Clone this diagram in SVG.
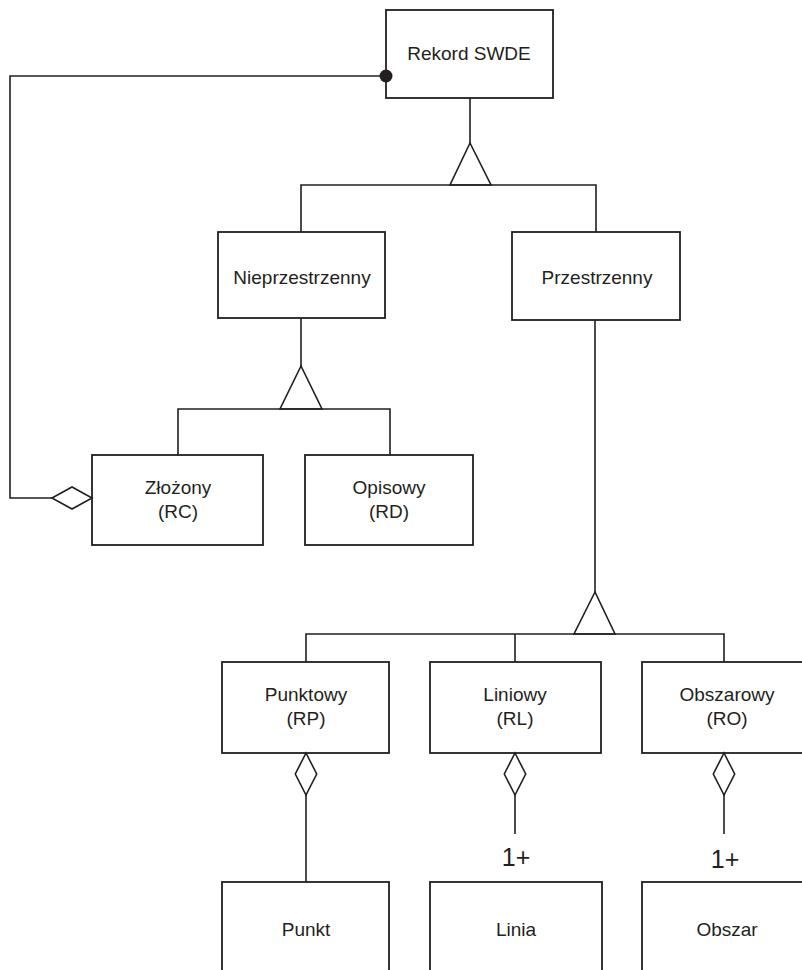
<svg xmlns="http://www.w3.org/2000/svg" width="802" height="970" viewBox="0 0 802 970">
<style>
.box{fill:#fff;stroke:#231f20;stroke-width:1.8}
.ln{fill:none;stroke:#231f20;stroke-width:1.6}
.sym{fill:#fff;stroke:#231f20;stroke-width:1.6}
text{font-family:"Liberation Sans",Arial,sans-serif;font-size:19px;fill:#231f20;text-anchor:middle}
.card{font-size:25px}
</style>
<rect width="802" height="970" fill="#fff"/>
<g id="rekord"><rect class="box" x="386" y="10" width="167" height="88"/><text x="469" y="60">Rekord SWDE</text></g>
<g id="nieprzestrzenny"><rect class="box" x="218" y="232" width="167" height="86"/><text x="302" y="284">Nieprzestrzenny</text></g>
<g id="przestrzenny"><rect class="box" x="512" y="232" width="168" height="88"/><text x="597" y="284">Przestrzenny</text></g>
<g id="zlozony"><rect class="box" x="92" y="455" width="171" height="90"/><text x="178" y="494">Złożony</text><text x="178" y="518">(RC)</text></g>
<g id="opisowy"><rect class="box" x="305" y="455" width="168" height="90"/><text x="389" y="494">Opisowy</text><text x="389" y="518">(RD)</text></g>
<g id="punktowy"><rect class="box" x="222" y="662" width="167" height="91"/><text x="306" y="701">Punktowy</text><text x="306" y="725">(RP)</text></g>
<g id="liniowy"><rect class="box" x="430" y="662" width="171" height="91"/><text x="515" y="701">Liniowy</text><text x="515" y="725">(RL)</text></g>
<g id="obszarowy"><rect class="box" x="642" y="662" width="171" height="91"/><text x="727" y="701">Obszarowy</text><text x="727" y="725">(RO)</text></g>
<g id="punkt"><rect class="box" x="222" y="882" width="167" height="100"/><text x="306" y="936">Punkt</text></g>
<g id="linia"><rect class="box" x="430" y="882" width="172" height="100"/><text x="516" y="936">Linia</text></g>
<g id="obszar"><rect class="box" x="642" y="882" width="171" height="100"/><text x="727" y="936">Obszar</text></g>
<g id="connectors">
<polyline class="ln" points="386,76 10,76 10,498 52,498"/>
<circle cx="386" cy="76" r="6.5" fill="#231f20"/>
<polygon class="sym" points="52,498 72,487 92,498 72,509"/>
<line class="ln" x1="470" y1="98" x2="470" y2="143"/>
<polygon class="sym" points="470,143 450,185 491,185"/>
<polyline class="ln" points="301,232 301,185 596,185 596,232"/>
<line class="ln" x1="301" y1="318" x2="301" y2="366"/>
<polygon class="sym" points="301,366 280,409 322,409"/>
<polyline class="ln" points="178,455 178,409 390,409 390,455"/>
<line class="ln" x1="595" y1="320" x2="595" y2="592"/>
<polygon class="sym" points="595,592 574,634 615,634"/>
<polyline class="ln" points="306,662 306,634 724,634 724,662"/>
<line class="ln" x1="515" y1="634" x2="515" y2="662"/>
<polygon class="sym" points="306,753 316.7,774 306,795 295.3,774"/>
<line class="ln" x1="306" y1="795" x2="306" y2="882"/>
<polygon class="sym" points="515,753 525.7,774 515,795 504.3,774"/>
<line class="ln" x1="515" y1="795" x2="515" y2="834"/>
<polygon class="sym" points="724,753 734.7,774 724,795 713.3,774"/>
<line class="ln" x1="724" y1="795" x2="724" y2="834"/>
<text class="card" x="516" y="866">1+</text>
<text class="card" x="725" y="868">1+</text>
</g>
</svg>
